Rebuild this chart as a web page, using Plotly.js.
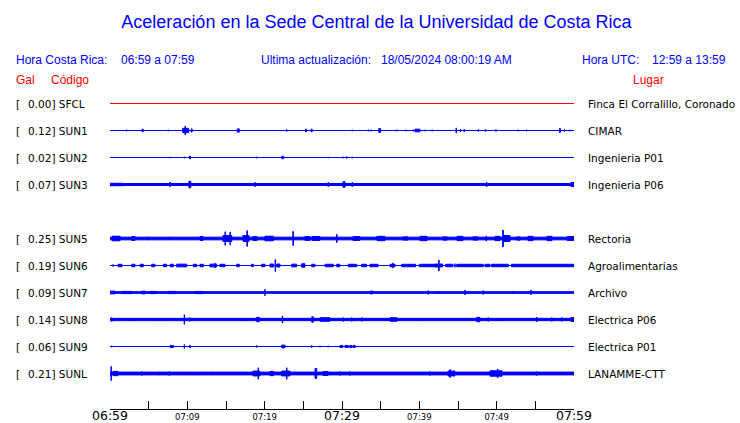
<!DOCTYPE html>
<html><head><meta charset="utf-8">
<script src="https://cdn.plot.ly/plotly-3.0.1.min.js"></script>
<style>html,body{margin:0;padding:0;background:#fff;} #chart{width:740px;height:423px;}</style>
</head><body><div id="chart"></div>
<script>
// ---- data (minutes after 06:59; amplitude in trace-spacing units) ----
const codes  = ['SFCL','SUN1','SUN2','SUN3','SUN5','SUN6','SUN7','SUN8','SUN9','SUNL'];
const slots  = [0,1,2,3,5,6,7,8,9,10];
const gal    = ['0.00','0.12','0.02','0.07','0.25','0.19','0.09','0.14','0.06','0.21'];
const places = ['Finca El Corralillo, Coronado','CIMAR','Ingenieria P01','Ingenieria P06','Rectoria',
                'Agroalimentarias','Archivo','Electrica P06','Electrica P01','LANAMME-CTT'];
const baseAmp = [0, 0, 0, 0.037, 0.05, 0, 0.031, 0.043, 0, 0.052];
const tickMinutes = [0,5,10,15,20,25,30,35,40,45,50,55,60];
const tickLabels  = ['06:59','','07:09','','07:19','','07:29','','07:39','','07:49','','07:59'];
const majorTicks  = ['06:59','07:29','07:59'];

// bursts: [start minute, end minute, half amplitude]
const SFCL = [];
const SUN1 = [[2.16,2.16,0.03],[4.15,4.30,0.05],[7.54,7.54,0.03],[9.40,10.18,0.08],[9.70,9.75,0.16],
  [10.50,10.62,0.06],[16.45,16.72,0.06],[22.85,22.85,0.04],[25.28,25.40,0.05],[26.02,26.14,0.05],
  [31.33,31.33,0.03],[33.40,33.40,0.03],[33.75,33.75,0.03],[34.75,35.0,0.07],[37.07,37.07,0.03],
  [38.27,38.27,0.03],[39.22,39.22,0.03],[39.44,40.08,0.05],[40.73,40.73,0.03],[41.68,41.68,0.03],
  [44.74,44.80,0.09],[45.35,45.35,0.05],[45.81,45.81,0.05],[47.63,47.63,0.04],[48.58,48.58,0.04],
  [49.91,49.91,0.04],[52.80,52.80,0.03],[53.88,53.88,0.03],[58.12,58.25,0.07],[58.75,58.75,0.04],
  [59.48,59.48,0.03]];
const SUN2 = [[7.76,7.76,0.025],[9.61,9.61,0.03],[10.28,10.40,0.05],[18.97,18.97,0.03],[22.2,22.45,0.045],
  [28.23,28.23,0.025],[30.13,30.13,0.03],[30.61,30.61,0.04],[31.33,31.33,0.03]];
const SUN3 = [[0,1.7,0.045],[7.76,7.76,0.09],[10.20,10.45,0.12],[18.75,18.75,0.09],[28.23,28.23,0.09],
  [30.13,30.40,0.10],[31.33,31.33,0.09],[48.71,48.71,0.09],[59.6,60,0.075]];
const SUN5 = [[0.3,1.3,0.085],[2.81,3.23,0.075],[4.91,4.91,0.06],[7.76,7.76,0.06],[11.64,12.03,0.07],
  [14.61,15.74,0.11],[14.87,14.92,0.25],[15.52,15.57,0.24],[17.20,17.97,0.11],[17.70,17.78,0.29],
  [18.49,19.01,0.075],[20.04,21.12,0.085],[23.65,23.72,0.26],[25.21,25.86,0.07],[26.12,27.15,0.07],
  [29.31,29.36,0.15],[31.42,32.33,0.07],[34.53,35.56,0.08],[37.89,38.53,0.06],[40.08,40.99,0.08],
  [43.06,43.58,0.06],[44.87,45.65,0.08],[46.94,47.59,0.06],[48.62,48.67,0.09],[49.78,50.43,0.08],
  [50.78,50.86,0.31],[50.86,51.72,0.11],[52.63,53.02,0.06],[54.05,54.70,0.08],[56.51,57.16,0.08],
  [59.10,60,0.07]];
const SUN6 = [[0.39,0.39,0.04],[1.03,1.55,0.045],[2.81,3.23,0.045],[3.88,4.31,0.045],[5.39,5.82,0.045],
  [6.90,7.33,0.045],[7.76,8.19,0.045],[8.62,9.92,0.05],[10.77,11.21,0.045],[11.64,12.07,0.045],
  [12.93,13.80,0.05],[13.55,13.60,0.08],[14.22,14.87,0.045],[16.38,16.72,0.045],[18.32,18.53,0.045],
  [19.61,20.04,0.045],[20.69,21.12,0.055],[21.35,21.40,0.22],[21.56,21.98,0.055],[23.49,24.14,0.05],
  [24.79,25.21,0.065],[26.08,26.51,0.045],[27.80,28.87,0.045],[29.31,29.74,0.045],[30.81,31.90,0.045],
  [32.55,33.19,0.045],[33.62,34.66,0.045],[36.21,36.85,0.045],[36.55,36.60,0.09],[37.72,39.5,0.045],
  [40.0,42.03,0.045],[42.50,42.56,0.20],[42.03,43.0,0.055],[43.4,44.35,0.045],[44.61,44.61,0.07],
  [44.83,48.27,0.045],[48.49,49.14,0.045],[49.35,51.5,0.045],[51.9,60,0.045]];
const SUN7 = [[0,0.65,0.05],[1.5,2.8,0.04],[4.10,4.53,0.05],[5.2,6.0,0.04],[7.5,8.5,0.04],
  [11,12,0.04],[20.04,20.04,0.125],[33.62,34.0,0.05],[41.16,41.16,0.075],[42.45,42.45,0.055],
  [45.91,45.91,0.093],[48.27,48.27,0.075],[52.15,52.15,0.055],[54.44,54.44,0.093]];
const SUN8 = [[0.22,0.22,0.075],[2.94,2.94,0.056],[6.47,6.47,0.056],[9.61,9.61,0.18],[10.34,10.34,0.075],
  [17.68,17.68,0.056],[18.97,19.31,0.08],[22.28,22.33,0.13],[26.08,26.29,0.1],[27.15,28.45,0.065],
  [30.17,30.17,0.075],[31.25,31.25,0.075],[32.55,32.55,0.075],[36.21,37.11,0.065],[40.30,40.30,0.056],
  [47.42,47.84,0.08],[48.92,48.92,0.075],[50.82,50.82,0.056],[55.18,55.18,0.093],[57.12,57.12,0.075],
  [58.41,58.41,0.075],[59.6,60,0.07]];
const SUN9 = [[0.22,0.22,0.03],[2.94,2.94,0.02],[7.76,8.19,0.04],[9.61,9.61,0.075],[10.34,10.34,0.056],
  [18.97,18.97,0.04],[20.69,20.69,0.02],[22.2,22.63,0.05],[26.08,26.08,0.04],[27.15,27.15,0.03],
  [28.23,28.23,0.03],[29.74,30.1,0.04],[30.4,30.8,0.04],[31.0,31.3,0.04],[31.45,31.7,0.04],
  [34.69,34.69,0.02],[41.60,41.60,0.02],[47.33,47.33,0.02],[50.08,50.08,0.02],[54.61,54.61,0.02],
  [56.55,56.55,0.02],[58.62,58.62,0.02],[59.48,59.48,0.02]];
const SUNL = [[0.13,0.17,0.26],[0.39,1.03,0.08],[4.10,4.10,0.075],[6.38,6.38,0.06],[7.67,7.67,0.075],
  [9.61,9.61,0.06],[11.21,11.21,0.06],[13.36,13.36,0.06],[18.49,19.40,0.09],[19.15,19.20,0.21],
  [20.69,21.12,0.08],[22.20,23.27,0.09],[22.83,22.88,0.21],[26.51,26.73,0.185],[27.54,28.2,0.07],
  [29.74,29.74,0.075],[31.03,31.03,0.075],[41.38,41.38,0.075],[43.71,44.61,0.09],[43.95,44.0,0.148],
  [49.14,50.69,0.1],[50.10,50.15,0.167],[55.18,55.18,0.075],[58.41,58.41,0.056]];
const bursts = [SFCL,SUN1,SUN2,SUN3,SUN5,SUN6,SUN7,SUN8,SUN9,SUNL];

// ---- layout geometry ----
const W = 740, H = 423, L = 110, R = 166, T = 90, B = 14;
const pw = W - L - R, ph = H - T - B;
const yTop = -0.5, yBot = yTop + ph / 27;
const px2x = p => (p - L) / pw;
const py2y = p => (H - B - p) / ph;

const traces = codes.map((c, i) => {
  const k = slots[i];
  const segs = [[0, 60, baseAmp[i]]].concat(bursts[i]);
  const x = [], y = [];
  segs.forEach(([s, e, a]) => {
    x.push(s, e, e, s, s, null);
    y.push(k - a, k - a, k + a, k + a, k - a, null);
  });
  const col = c === 'SFCL' ? '#ff0000' : '#0000ff';
  return {x, y, type: 'scatter', mode: 'lines', fill: 'toself', fillcolor: col,
          line: {color: col, width: 1}, hoverinfo: 'skip', showlegend: false, name: c};
});

const blue = '#0000ff', red = '#ff0000';
const hdr = (text, px, py, color, size, fam) => ({text, x: px2x(px), y: py2y(py), xref: 'paper', yref: 'paper',
  xanchor: 'left', yanchor: 'middle', showarrow: false, borderpad: 0,
  font: {family: fam || 'Liberation Sans, Arial, sans-serif', size: size || 12, color}});

const ann = [
  hdr('Hora Costa Rica:', 15, 60, blue), hdr('06:59 a 07:59', 120, 60, blue),
  hdr('Ultima actualización:', 260, 60, blue), hdr('18/05/2024 08:00:19 AM', 380, 60, blue),
  hdr('Hora UTC:', 581, 60, blue), hdr('12:59 a 13:59', 651, 60, blue),
  hdr('Gal', 15, 80, red), hdr('Código', 50, 80, red), hdr('Lugar', 632, 80, red)
];
codes.forEach((c, i) => {
  const base = {xref: 'paper', yref: 'y', y: slots[i], xanchor: 'left', yanchor: 'middle', showarrow: false,
    borderpad: 0, font: {family: 'DejaVu Sans, sans-serif', size: 10.5, color: '#000'}};
  ann.push(Object.assign({}, base, {text: '[', x: px2x(15)}));
  ann.push(Object.assign({}, base, {text: gal[i] + '] ' + c, x: px2x(27)}));
  ann.push(Object.assign({}, base, {text: places[i], x: px2x(587)}));
});

const tickText = tickLabels.map(t => t === '' ? '' :
  (majorTicks.includes(t) ? t : '<span style="font-size:8.5px">' + t + '</span>'));

const layout = {
  width: W, height: H, margin: {l: L, r: R, t: T, b: B, pad: 0},
  paper_bgcolor: '#fff', plot_bgcolor: '#fff',
  font: {family: 'DejaVu Sans, sans-serif', size: 12.5, color: '#000'},
  title: {text: 'Aceleración en la Sede Central de la Universidad de Costa Rica',
          font: {family: 'Liberation Sans, Arial, sans-serif', size: 18, color: blue},
          xref: 'container', yref: 'container', x: 376.5 / W, xanchor: 'center', y: 1 - 22 / H, yanchor: 'middle'},
  xaxis: {range: [0, 60], tickmode: 'array', tickvals: tickMinutes, ticktext: tickText,
          showline: true, linecolor: '#000', linewidth: 1, ticks: 'inside', ticklen: 8, tickwidth: 1,
          tickcolor: '#000', showgrid: false, zeroline: false, automargin: false, fixedrange: true,
          ticklabelstandoff: -5,
          tickfont: {family: 'DejaVu Sans, sans-serif', size: 12.5, color: '#000'}},
  yaxis: {range: [yBot, yTop], visible: false, showgrid: false, zeroline: false, fixedrange: true},
  annotations: ann, showlegend: false
};
Plotly.newPlot('chart', traces, layout, {staticPlot: true, displayModeBar: false});
</script></body></html>
